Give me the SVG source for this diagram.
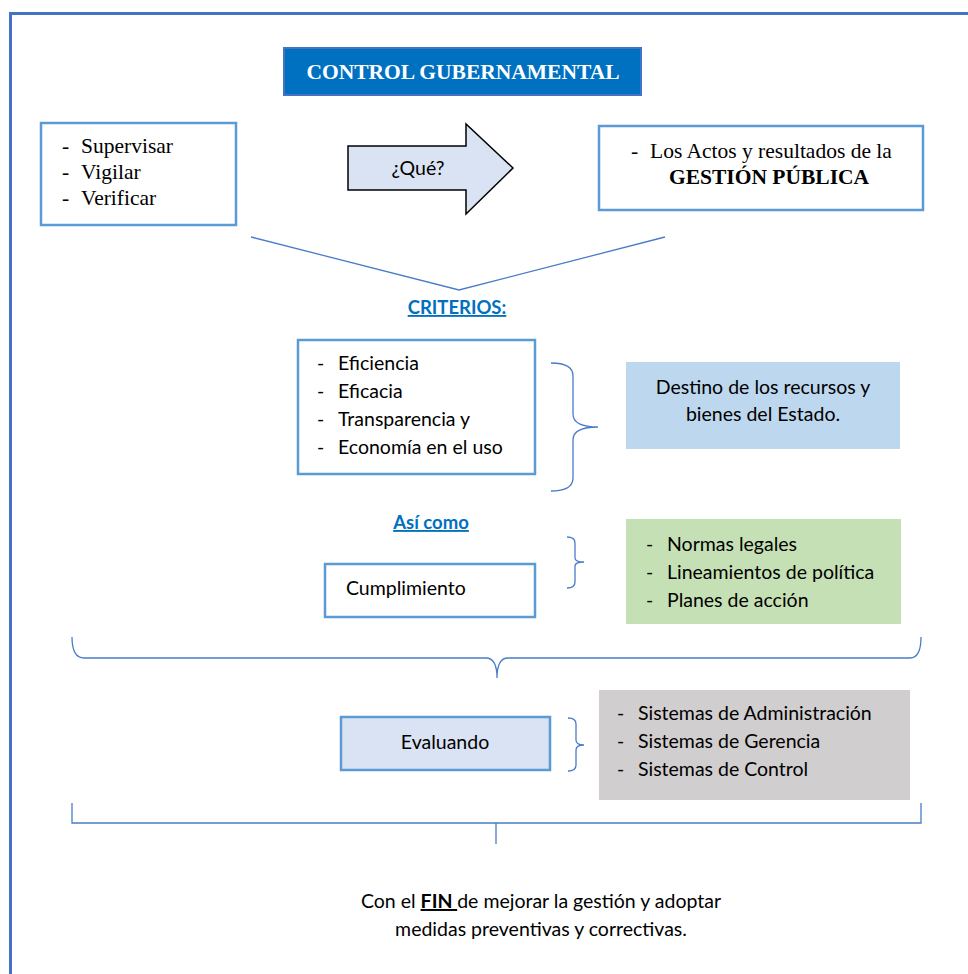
<svg xmlns="http://www.w3.org/2000/svg" width="968" height="974" viewBox="0 0 968 974">
<style>
.box{fill:#fff;stroke:#5B9BD5;stroke-width:2.5}
.serif{font-family:"Liberation Serif","Times New Roman",serif;font-size:21.5px;fill:#000}
.sans{font-family:Lato,"Liberation Sans",sans-serif;font-size:19.5px;fill:#000}
.head{font-family:Lato,"Liberation Sans",sans-serif;font-size:18.5px;font-weight:bold;fill:#0070C0;text-decoration:underline}
.con{fill:none;stroke:#4A7CC9;stroke-width:1.3}
</style>
<rect x="10.5" y="13.5" width="970" height="980" fill="none" stroke="#4472C4" stroke-width="3"/>

<g id="title">
<rect x="284" y="48" width="357" height="47" fill="#0070C0" stroke="#4472C4" stroke-width="2"/>
<text x="463" y="79" text-anchor="middle" font-family="Liberation Serif,serif" font-size="21.5" font-weight="bold" fill="#fff">CONTROL GUBERNAMENTAL</text>
</g>

<g id="acciones">
<rect class="box" x="41" y="123" width="195" height="102"/>
<text class="serif"><tspan x="62" y="153">-</tspan><tspan x="81" y="153">Supervisar</tspan><tspan x="62" y="179">-</tspan><tspan x="81" y="179">Vigilar</tspan><tspan x="62" y="205">-</tspan><tspan x="81" y="205">Verificar</tspan></text>
</g>

<g id="que">
<path d="M348,146 H466 V124 L513,168 L466,214 V190 H348 Z" fill="#DAE3F3" stroke="#000" stroke-width="1.5"/>
<text class="sans" x="418" y="175" text-anchor="middle">¿Qué?</text>
</g>

<g id="gestion">
<rect class="box" x="599" y="126" width="324" height="84"/>
<text class="serif"><tspan x="631" y="158">-</tspan><tspan x="650" y="158">Los Actos y resultados de la</tspan></text>
<text class="serif" x="769" y="184" text-anchor="middle" font-weight="bold">GESTIÓN PÚBLICA</text>
</g>

<g id="criterios-label">
<text class="head" x="457" y="314" text-anchor="middle">CRITERIOS:</text>
</g>

<g id="criterios">
<rect class="box" x="298" y="340" width="237" height="134"/>
<text class="sans"><tspan x="317" y="370">-</tspan><tspan x="338" y="370">Eficiencia</tspan><tspan x="317" y="398">-</tspan><tspan x="338" y="398">Eficacia</tspan><tspan x="317" y="426">-</tspan><tspan x="338" y="426">Transparencia y</tspan><tspan x="317" y="454">-</tspan><tspan x="338" y="454">Economía en el uso</tspan></text>
</g>

<g id="destino">
<rect x="626" y="362" width="274" height="87" fill="#BDD7EE"/>
<text class="sans" x="763" y="394" text-anchor="middle">Destino de los recursos y</text>
<text class="sans" x="763" y="421" text-anchor="middle">bienes del Estado.</text>
</g>

<g id="asicomo-label">
<text class="head" x="431" y="529" text-anchor="middle">Así como</text>
</g>

<g id="cumplimiento">
<rect class="box" x="325" y="564" width="210" height="53"/>
<text class="sans" x="346" y="595">Cumplimiento</text>
</g>

<g id="normas">
<rect x="626" y="519" width="275" height="105" fill="#C5E0B4"/>
<text class="sans"><tspan x="646" y="551">-</tspan><tspan x="667" y="551">Normas legales</tspan><tspan x="646" y="579">-</tspan><tspan x="667" y="579">Lineamientos de política</tspan><tspan x="646" y="607">-</tspan><tspan x="667" y="607">Planes de acción</tspan></text>
</g>

<g id="evaluando">
<rect x="341" y="717" width="209" height="53" fill="#DAE3F3" stroke="#5B9BD5" stroke-width="2.5"/>
<text class="sans" x="445" y="749" text-anchor="middle">Evaluando</text>
</g>

<g id="sistemas">
<rect x="599" y="690" width="311" height="110" fill="#D0CECE"/>
<text class="sans"><tspan x="617" y="720">-</tspan><tspan x="638" y="720">Sistemas de Administración</tspan><tspan x="617" y="748">-</tspan><tspan x="638" y="748">Sistemas de Gerencia</tspan><tspan x="617" y="776">-</tspan><tspan x="638" y="776">Sistemas de Control</tspan></text>
</g>

<g id="fin">
<text class="sans" x="541" y="908" text-anchor="middle">Con el <tspan font-weight="bold" text-decoration="underline">FIN </tspan>de mejorar la gestión y adoptar</text>
<text class="sans" x="541" y="936" text-anchor="middle">medidas preventivas y correctivas.</text>
</g>

<g id="connectors">
<path class="con" d="M251,237 L459,290 L665,237"/>
<path class="con" d="M551,363 Q573,363 573,376 L573,414 Q573,427 598,427 Q573,427 573,440 L573,478 Q573,491 551,491"/>
<path class="con" d="M567,537 Q575,537 575,543 L575,558 Q575,562 584,562 Q575,562 575,566 L575,582 Q575,588 567,588"/>
<path class="con" d="M72,637 Q72,658 84,658 L486,658 Q497,658 497,678 Q497,658 508,658 L910,658 Q921,658 921,637"/>
<path class="con" d="M568,718 Q576,718 576,724 L576,740 Q576,745 584,745 Q576,745 576,750 L576,765 Q576,771 568,771"/>
<path class="con" d="M72,803 L72,823 L921,823 L921,803 M496,823 L496,844"/>
</g>
</svg>
